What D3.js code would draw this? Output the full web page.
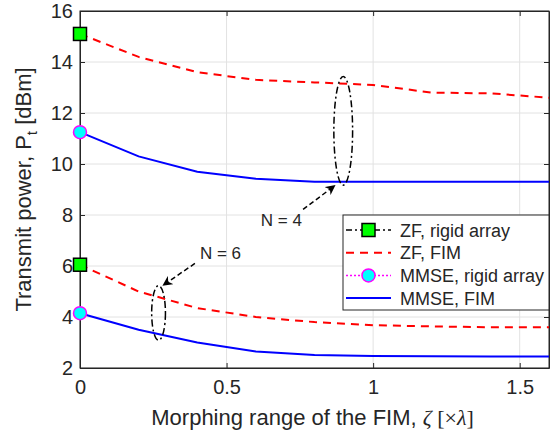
<!DOCTYPE html>
<html>
<head>
<meta charset="utf-8">
<script src="https://cdn.jsdelivr.net/npm/d3@7"></script>
<style>
body { margin: 0; background: #fff; }
text { font-family: "Liberation Sans", Arial, sans-serif; fill: #262626; }
</style>
</head>
<body>
<div id="chart"></div>
<script>
// data
var zeta = [0, 0.2, 0.4, 0.6, 0.8, 1.0, 1.2, 1.4, 1.6];
var zfFimN4 = [15.1, 14.2, 13.6, 13.3, 13.2, 13.1, 12.8, 12.77, 12.6];
var mmseFimN4 = [11.25, 10.3, 9.7, 9.42, 9.3, 9.3, 9.3, 9.3, 9.3];
var zfFimN6 = [6.05, 5.0, 4.35, 4.0, 3.8, 3.68, 3.63, 3.6, 3.6];
var mmseFimN6 = [4.15, 3.5, 3.0, 2.65, 2.51, 2.47, 2.46, 2.45, 2.45];
var rigidZeta = [0, 0];
var zfRigid = [15.1, 6.05];
var mmseRigid = [11.25, 4.15];
var xTicks = [0, 0.5, 1, 1.5];
var yTicks = [2, 4, 6, 8, 10, 12, 14, 16];
var legendLabels = ["ZF, rigid array", "ZF, FIM", "MMSE, rigid array", "MMSE, FIM"];

// size and margins
var svgWidth = 555;
var svgHeight = 434;
var margin = { top: 11, right: 6, bottom: 66, left: 80 };
var width = svgWidth - margin.left - margin.right;
var height = svgHeight - margin.top - margin.bottom;

var svg = d3.select("#chart")
    .append("svg")
    .attr("width", svgWidth)
    .attr("height", svgHeight);

var chartGroup = svg.append("g")
    .attr("transform", `translate(${margin.left}, ${margin.top})`);

var x = d3.scaleLinear().domain([0, 1.6]).range([0, width]);
var y = d3.scaleLinear().domain([2, 16]).range([height, 0]);

var axisColor = "#262626";

// grid
chartGroup.selectAll(".xgrid")
    .data(xTicks)
    .enter()
    .append("line")
    .attr("x1", d => x(d)).attr("x2", d => x(d))
    .attr("y1", 0).attr("y2", height)
    .attr("stroke", "#e2e2e2").attr("stroke-width", 1);

chartGroup.selectAll(".ygrid")
    .data(yTicks)
    .enter()
    .append("line")
    .attr("x1", 0).attr("x2", width)
    .attr("y1", d => y(d)).attr("y2", d => y(d))
    .attr("stroke", "#e2e2e2").attr("stroke-width", 1);

// axes, ticks point inward
var xAxis = d3.axisBottom(x).tickValues(xTicks).tickFormat(d3.format("")).tickSizeInner(-5).tickSizeOuter(0).tickPadding(12);
var yAxis = d3.axisLeft(y).tickValues(yTicks).tickSizeInner(-5).tickSizeOuter(0).tickPadding(7);

var gx = chartGroup.append("g")
    .attr("transform", `translate(0, ${height})`)
    .call(xAxis);
var gy = chartGroup.append("g").call(yAxis);

// top and right ticks
chartGroup.append("g").call(d3.axisTop(x).tickValues(xTicks).tickSizeInner(-5).tickSizeOuter(0).tickFormat(""));
chartGroup.append("g")
    .attr("transform", `translate(${width}, 0)`)
    .call(d3.axisRight(y).tickValues(yTicks).tickSizeInner(-5).tickSizeOuter(0).tickFormat(""));

chartGroup.selectAll(".domain").attr("stroke", axisColor);
chartGroup.selectAll(".tick line").attr("stroke", axisColor);
gx.selectAll("text").style("font-size", "20px").attr("fill", axisColor);
gy.selectAll("text").style("font-size", "20px").attr("fill", axisColor);

// box
chartGroup.append("rect")
    .attr("width", width).attr("height", height)
    .attr("fill", "none").attr("stroke", axisColor).attr("stroke-width", 1);

// curves
var line = d3.line()
    .x(function(d, i) { return x(zeta[i]); })
    .y(function(d) { return y(d); });

function drawCurve(values, color, dash) {
    chartGroup.append("path")
        .datum(values)
        .attr("d", line)
        .attr("fill", "none")
        .attr("stroke", color)
        .attr("stroke-width", 2)
        .attr("stroke-dasharray", dash);
}

drawCurve(zfFimN4, "#ff0000", "8,6");
drawCurve(zfFimN6, "#ff0000", "8,6");
drawCurve(mmseFimN4, "#0000ff", null);
drawCurve(mmseFimN6, "#0000ff", null);

// rigid array markers
chartGroup.selectAll(".sq")
    .data(zfRigid)
    .enter()
    .append("rect")
    .attr("x", (d, i) => x(rigidZeta[i]) - 6.5)
    .attr("y", d => y(d) - 6.5)
    .attr("width", 13).attr("height", 13)
    .attr("fill", "#00ff00").attr("stroke", "#000").attr("stroke-width", 1.5);

chartGroup.selectAll(".circ")
    .data(mmseRigid)
    .enter()
    .append("circle")
    .attr("cx", (d, i) => x(rigidZeta[i]))
    .attr("cy", d => y(d))
    .attr("r", 6.5)
    .attr("fill", "#00ffff").attr("stroke", "#ff00ff").attr("stroke-width", 1.5);

// annotations (data coordinates)
var ellipses = [
    { cx: 0.898, cy: 11.3, rx: 0.032, ry: 2.13 },
    { cx: 0.268, cy: 4.16, rx: 0.0235, ry: 1.07 }
];
var arrows = [
    { x1: 0.761, y1: 8.22, x2: 0.869, y2: 9.15 },
    { x1: 0.392, y1: 6.1, x2: 0.284, y2: 5.25 }
];
var notes = [
    { x: 0.757, y: 7.57, text: "N = 4", anchor: "end" },
    { x: 0.409, y: 6.27, text: "N = 6", anchor: "start" }
];

svg.append("defs").append("marker")
    .attr("id", "head")
    .attr("viewBox", "0 0 10 10")
    .attr("refX", 9).attr("refY", 5)
    .attr("markerWidth", 10).attr("markerHeight", 10)
    .attr("markerUnits", "userSpaceOnUse")
    .attr("orient", "auto")
    .append("path")
    .attr("d", "M0,0 L10,5 L0,10 L3,5 Z")
    .attr("fill", "#000");

chartGroup.selectAll(".ell")
    .data(ellipses)
    .enter()
    .append("ellipse")
    .attr("cx", d => x(d.cx))
    .attr("cy", d => y(d.cy))
    .attr("rx", d => x(d.cx + d.rx) - x(d.cx))
    .attr("ry", d => y(d.cy - d.ry) - y(d.cy))
    .attr("fill", "none").attr("stroke", "#000").attr("stroke-width", 1.5)
    .attr("stroke-dasharray", "7,3,2,3");

chartGroup.selectAll(".arrow")
    .data(arrows)
    .enter()
    .append("line")
    .attr("x1", d => x(d.x1)).attr("y1", d => y(d.y1))
    .attr("x2", d => x(d.x2)).attr("y2", d => y(d.y2))
    .attr("stroke", "#000").attr("stroke-width", 1.5)
    .attr("stroke-dasharray", "5,3")
    .attr("marker-end", "url(#head)");

chartGroup.selectAll(".note")
    .data(notes)
    .enter()
    .append("text")
    .attr("x", d => x(d.x)).attr("y", d => y(d.y))
    .attr("text-anchor", d => d.anchor)
    .style("font-size", "17px")
    .attr("fill", "#000")
    .text(d => d.text);

// legend
var lg = svg.append("g").attr("transform", "translate(343, 215)");
lg.append("rect")
    .attr("width", 206).attr("height", 95)
    .attr("fill", "#fff").attr("stroke", axisColor).attr("stroke-width", 1);

var legendStyle = [
    { color: "#000", dash: "6,3,2,3", marker: "square" },
    { color: "#ff0000", dash: "8,6", marker: null },
    { color: "#ff00ff", dash: "2,2", marker: "circle" },
    { color: "#0000ff", dash: null, marker: null }
];

legendLabels.forEach(function(label, i) {
    var row = lg.append("g").attr("transform", `translate(0, ${15 + i * 22.7})`);
    var s = legendStyle[i];
    row.append("line")
        .attr("x1", 3).attr("x2", 48)
        .attr("stroke", s.color).attr("stroke-width", s.color == "#000" || s.color == "#ff00ff" ? 1.5 : 2)
        .attr("stroke-dasharray", s.dash);
    if (s.marker == "square") {
        row.append("rect")
            .attr("x", 19).attr("y", -6.5).attr("width", 13).attr("height", 13)
            .attr("fill", "#00ff00").attr("stroke", "#000").attr("stroke-width", 1.5);
    } else if (s.marker == "circle") {
        row.append("circle")
            .attr("cx", 25.5).attr("r", 6.5)
            .attr("fill", "#00ffff").attr("stroke", "#ff00ff").attr("stroke-width", 1.5);
    }
    row.append("text")
        .attr("x", 57).attr("y", 6.5)
        .style("font-size", "18px")
        .attr("fill", "#000")
        .text(label);
});

// axis titles
var xTitle = svg.append("text")
    .attr("x", margin.left + width / 2 - 2)
    .attr("y", 425)
    .attr("text-anchor", "middle")
    .style("font-size", "22px");
xTitle.append("tspan").text("Morphing range of the FIM, ");
xTitle.append("tspan").style("font-family", "Liberation Serif").style("font-style", "italic").text("\u03b6");
xTitle.append("tspan").style("font-family", "Liberation Serif").text(" [\u00d7");
xTitle.append("tspan").style("font-family", "Liberation Serif").style("font-style", "italic").text("\u03bb");
xTitle.append("tspan").style("font-family", "Liberation Serif").text("]");

var yTitle = svg.append("text")
    .attr("transform", `translate(31, ${margin.top + height / 2}) rotate(-90)`)
    .attr("text-anchor", "middle")
    .style("font-size", "22px");
yTitle.append("tspan").text("Transmit power, P");
yTitle.append("tspan").attr("dy", 6).style("font-size", "15px").text("t");
yTitle.append("tspan").attr("dy", -6).text(" [dBm]");
</script>
</body>
</html>
